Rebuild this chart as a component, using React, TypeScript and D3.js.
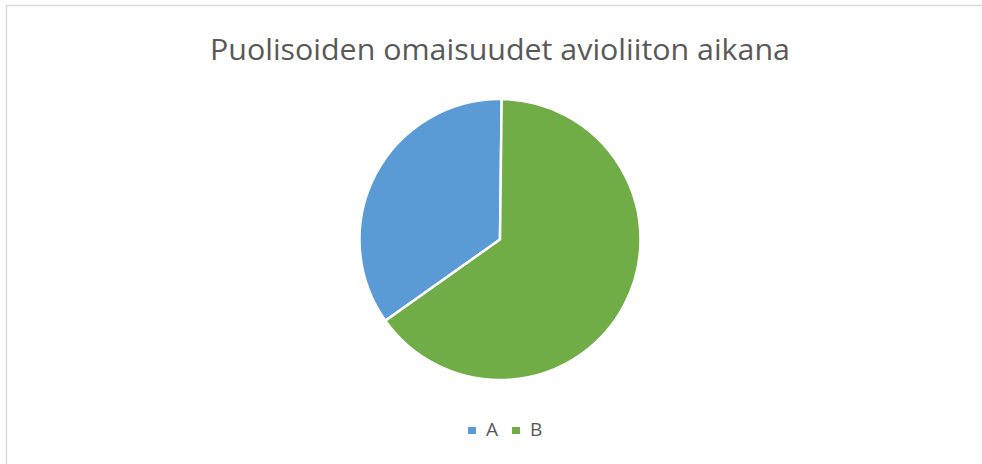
import React from "react";
import * as d3 from "d3";

const categories = ["A", "B"];
const values = [35, 65];
const colors = ["#5b9bd5", "#70ad47"];
const title = "Puolisoiden omaisuudet avioliiton aikana";

export default function App() {
  const W = 982, H = 464;
  const cx = 500, cy = 239.5, r = 140.5;
  const total = d3.sum(values);
  const pie = d3
    .pie<number>()
    .sort(null)
    .startAngle(-2 * Math.PI * (values[0] / total) + 0.012)
    .endAngle(2 * Math.PI - 2 * Math.PI * (values[0] / total) + 0.012);
  const arcs = pie(values);
  const arc = d3.arc<d3.PieArcDatum<number>>().innerRadius(0).outerRadius(r);
  const font = "'Open Sans', 'Noto Sans', sans-serif";
  const legendX = [468, 512];
  return (
    <svg width={W} height={H} style={{ position: "absolute", left: 0, top: 0 }}>
      <rect x={0} y={0} width={W} height={H} fill="#fff" />
      <path d={`M6.5,${H} V5.5 H${W}`} fill="none" stroke="#d9d9d9" strokeWidth={1.5} />
      <text x={500} y={60} textAnchor="middle" fontFamily={font} fontSize={30} fill="#595959"
        textLength={580} lengthAdjust="spacingAndGlyphs">
        {title}
      </text>
      <g transform={`translate(${cx},${cy})`}>
        {arcs.map((a, i) => (
          <path key={categories[i]} d={arc(a) || ""} fill={colors[i]} stroke="#fff" strokeWidth={2.5} strokeLinejoin="round" />
        ))}
      </g>
      {categories.map((c, i) => (
        <g key={c}>
          <rect x={legendX[i]} y={427} width={8} height={7} fill={colors[i]} />
          <text x={legendX[i] + 18} y={436} fontFamily={font} fontSize={19} fill="#595959">{c}</text>
        </g>
      ))}
    </svg>
  );
}
